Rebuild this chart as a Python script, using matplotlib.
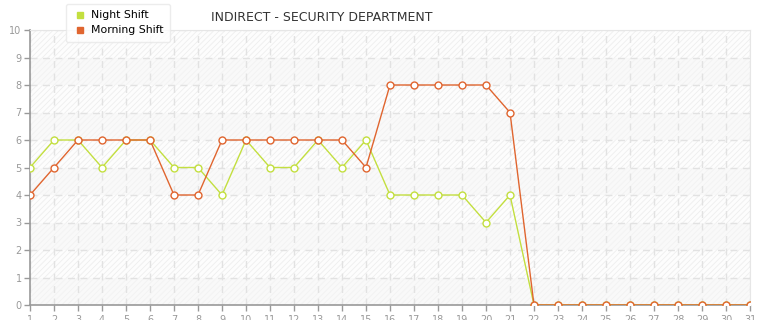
import matplotlib.pyplot as plt

# ------------------- data -------------------
days = list(range(1, 32))
night_shift = [5, 6, 6, 5, 6, 6, 5, 5, 4, 6, 5, 5, 6, 5, 6, 4, 4, 4, 4, 3, 4,
               0, 0, 0, 0, 0, 0, 0, 0, 0, 0]
morning_shift = [4, 5, 6, 6, 6, 6, 4, 4, 6, 6, 6, 6, 6, 6, 5, 8, 8, 8, 8, 8, 7,
                 0, 0, 0, 0, 0, 0, 0, 0, 0, 0]

night_color = '#c3df3f'
morning_color = '#e0652f'

plt.rcParams['hatch.linewidth'] = 0.6

# ------------------- figure -------------------
fig = plt.figure(figsize=(7.65, 3.2), dpi=100)
ax = fig.add_axes([30/765, 15/320, 720/765, 275/320])

# alternating background bands
for y0 in range(0, 10):
    if y0 % 2 == 0:
        ax.axhspan(y0, y0 + 1, facecolor='#f9f9f9', edgecolor='#f2f2f2',
                   hatch='//////', linewidth=0, zorder=0)
    else:
        ax.axhspan(y0, y0 + 1, facecolor='#fdfdfd', edgecolor='#eeeeee',
                   hatch='//////', linewidth=0, zorder=0)

ax.plot(days, night_shift, color=night_color, lw=1, marker='o', ms=5,
        mfc='white', mec=night_color, mew=1, zorder=3, label='Night Shift')
ax.plot(days, morning_shift, color=morning_color, lw=1, marker='o', ms=5,
        mfc='white', mec=morning_color, mew=1, zorder=4, label='Morning Shift')

ax.set_xlim(1, 31)
ax.set_ylim(0, 10)
ax.set_xticks(days)
ax.set_yticks(range(0, 11))
ax.grid(True, color='#e2e2e2', linestyle=(0, (5, 4)), lw=1, zorder=1)
ax.set_axisbelow(True)

for s in ['top', 'right']:
    ax.spines[s].set_color('#e6e6e6')
for s in ['left', 'bottom']:
    ax.spines[s].set_color('#999999')
    ax.spines[s].set_linewidth(1.2)
ax.tick_params(axis='both', colors='#999999', labelcolor='#999999',
               labelsize=7, length=4, width=1, pad=2)
ax.tick_params(axis='x', pad=3)

fig.text(0.42, 0.945, 'INDIRECT - SECURITY DEPARTMENT', ha='center', va='center',
         fontsize=9, color='#333333')

leg = fig.legend(handles=[
    plt.Line2D([], [], color=night_color, marker='s', ls='none', ms=4),
    plt.Line2D([], [], color=morning_color, marker='s', ls='none', ms=4)],
    labels=['Night Shift', 'Morning Shift'], loc='upper left',
    bbox_to_anchor=(66/765, 1 - 4/320), fontsize=7.8, frameon=True, fancybox=True,
    handletextpad=0.3, borderpad=0.6, labelspacing=0.45, handlelength=1.4,
    borderaxespad=0, shadow=False)
leg.get_frame().set_edgecolor('#e8e8e8')

plt.savefig('out.png', dpi=100)
